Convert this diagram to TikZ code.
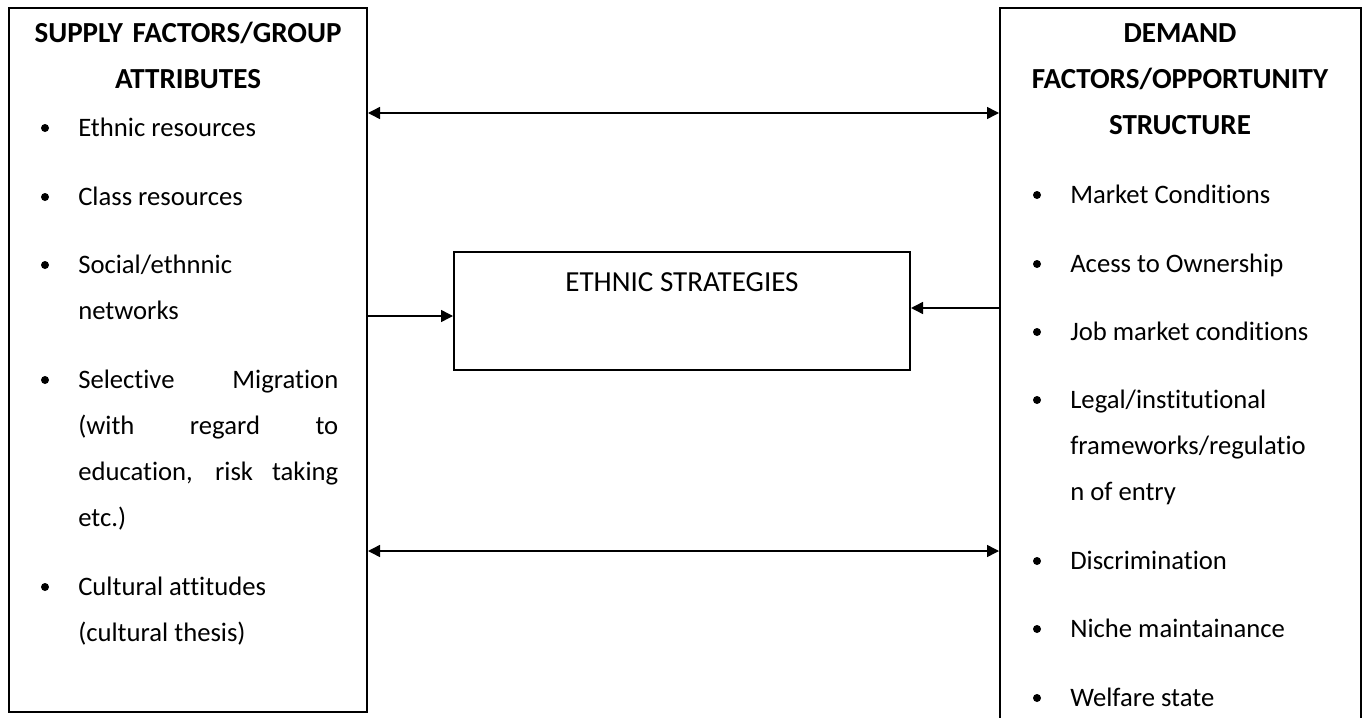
\documentclass[tikz,border=0pt]{standalone}
\usepackage{fontspec}
\setmainfont{Carlito}[Ligatures=NoCommon]
\usetikzlibrary{arrows.meta}
\tikzset{
  frame/.style={draw, line width=1.5pt, inner sep=0pt},
  link/.style={line width=1.1pt, -{Triangle[length=9pt,width=9pt]}},
  twoway/.style={line width=1.1pt, {Triangle[length=9pt,width=9pt]}-{Triangle[length=9pt,width=9pt]}},
  head/.style={font=\fontsize{21.8}{34.5}\selectfont\bfseries, text width=262pt, align=center, anchor=base, inner sep=0pt},
  entry/.style={font=\fontsize{20}{34.5}\selectfont, anchor=base west, inner sep=0pt},
  multi/.style={entry, text width=210pt, align=flush left}
}
\newcommand{\jline}[1]{\makebox[195pt][s]{#1}}
\newcommand{\blt}[2]{\fill (#1,#2) circle (4);}
\begin{document}
\begin{tikzpicture}[x=0.75pt, y=-0.75pt]
  \clip (0,0) rectangle (1366,717);
  \useasboundingbox (0,0) rectangle (1366,717);
  % boxes
  \node[frame, minimum width=268.5pt, minimum height=528pt] (supply) at (188,360) {};
  \node[frame, minimum width=270.75pt, minimum height=545pt] (demand) at (1180.5,371.5) {};
  \node[frame, minimum width=342pt, minimum height=88.5pt] (strat) at (682,311) {};
  \node[entry, anchor=base, font=\fontsize{21.8}{34.5}\selectfont] (stext) at (682,291) {ETHNIC STRATEGIES};
  % supply side
  \node[head] (shead) at (188,43) {SUPPLY FACTORS/GROUP\\ATTRIBUTES};
  \node[entry] (s1) at (78,136) {Ethnic resources};
  \node[entry] (s2) at (78,205) {Class resources};
  \node[multi] (s3) at (78,273) {Social/ethnnic\\networks};
  \node[multi] (s4) at (78,388) {\jline{Selective Migration}\\\jline{(with regard to}\\\jline{education, risk taking}\\etc.)};
  \node[multi] (s5) at (78,595) {Cultural attitudes\\(cultural thesis)};
  \blt{45}{128}
  \blt{45}{197}
  \blt{45}{265}
  \blt{45}{380}
  \blt{45}{587}
  % demand side
  \node[head] (dhead) at (1180,43) {DEMAND\\FACTORS/OPPORTUNITY\\STRUCTURE};
  \node[entry] (d1) at (1070,203) {Market Conditions};
  \node[entry] (d2) at (1070,272) {Acess to Ownership};
  \node[entry] (d3) at (1070,340) {Job market conditions};
  \node[multi] (d4) at (1070,408) {Legal/institutional\\frameworks/regulatio\\n of entry};
  \node[entry] (d5) at (1070,569) {Discrimination};
  \node[entry] (d6) at (1070,637) {Niche maintainance};
  \node[entry] (d7) at (1070,706) {Welfare state};
  \blt{1037}{195}
  \blt{1037}{264}
  \blt{1037}{332}
  \blt{1037}{400}
  \blt{1037}{561}
  \blt{1037}{629}
  \blt{1037}{698}
  % arrows
  \coordinate (up) at (0,113);
  \coordinate (low) at (0,551);
  \coordinate (inl) at (0,316);
  \coordinate (inr) at (0,308);
  \draw[twoway] (supply.east |- up) -- (demand.west |- up);
  \draw[twoway] (supply.east |- low) -- (demand.west |- low);
  \draw[link] (supply.east |- inl) -- (strat.west |- inl);
  \draw[link] (demand.west |- inr) -- (strat.east |- inr);
\end{tikzpicture}
\end{document}
